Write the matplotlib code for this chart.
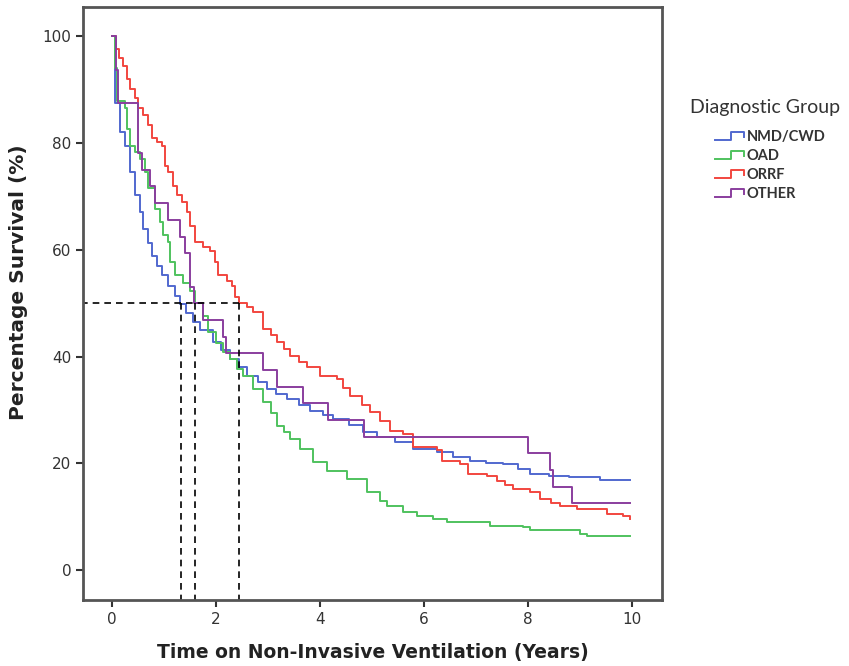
"""Kaplan-Meier style survival curves by diagnostic group."""

import matplotlib

matplotlib.use("Agg")

import matplotlib.pyplot as plt  # noqa: E402
from matplotlib.legend_handler import HandlerBase  # noqa: E402
from matplotlib.lines import Line2D  # noqa: E402

plt.rcParams["font.family"] = ["DejaVu Sans"]

# survival steps (years, percent)
nmd_t = [0, 0.05, 0.15, 0.25, 0.35, 0.44, 0.54, 0.6, 0.69, 0.76, 0.86, 0.96, 1.08, 1.21,
         1.31, 1.42, 1.56, 1.7, 1.94, 2.1, 2.27, 2.45, 2.6, 2.8, 2.98, 3.15, 3.37, 3.6,
         3.81, 4.05, 4.25, 4.55, 4.83, 5.1, 5.45, 5.79, 6.25, 6.55, 6.88, 7.2, 7.52, 7.8,
         8.04, 8.4, 8.8, 9.38, 9.96]
nmd_s = [100, 87.5, 82, 79.5, 74.6, 70.2, 67.1, 64, 61.2, 58.9, 57, 55.2, 53.3, 51.4,
         49.9, 48.2, 46.5, 45, 42.8, 41.2, 39.6, 38, 36.4, 35.2, 34, 33, 32.1, 31,
         29.8, 29, 28.3, 27.2, 25.9, 25, 24, 22.7, 22.1, 21.2, 20.4, 20.1, 19.9, 19,
         18, 17.7, 17.4, 16.9, 16.9]

oad_t = [0, 0.05, 0.1, 0.25, 0.29, 0.35, 0.44, 0.54, 0.63, 0.69, 0.83, 0.92, 0.98, 1.08,
         1.12, 1.21, 1.37, 1.5, 1.6, 1.75, 1.85, 2.0, 2.13, 2.27, 2.4, 2.52, 2.71, 2.9,
         3.05, 3.17, 3.3, 3.42, 3.62, 3.87, 4.13, 4.52, 4.9, 5.15, 5.29, 5.6, 5.87, 6.17,
         6.44, 7.27, 7.9, 8.04, 9.0, 9.13, 9.96]
oad_s = [100, 94, 87.8, 86.5, 82.7, 79.5, 78.4, 77.1, 74.6, 71.5, 67.7, 65.3, 62.7, 61.5,
         57.8, 55.2, 53.7, 52.2, 50, 47.7, 44.7, 42.5, 40.9, 39.5, 37.7, 36.4, 34.0, 31.5,
         29.5, 27.0, 25.8, 24.6, 22.7, 20.3, 18.6, 17.1, 14.6, 12.9, 12.0, 10.9, 10.1, 9.6,
         9.0, 8.3, 8.1, 7.5, 6.75, 6.4, 6.4]

orrf_t = [0, 0.08, 0.14, 0.21, 0.29, 0.35, 0.44, 0.5, 0.6, 0.69, 0.77, 0.86, 0.96, 1.02,
          1.08, 1.17, 1.25, 1.35, 1.44, 1.5, 1.6, 1.75, 1.88, 1.98, 2.04, 2.21, 2.31, 2.37,
          2.45, 2.6, 2.71, 2.9, 3.05, 3.17, 3.3, 3.42, 3.6, 3.75, 4.0, 4.33, 4.45, 4.58,
          4.8, 4.96, 5.15, 5.35, 5.6, 5.79, 6.25, 6.35, 6.69, 6.85, 7.21, 7.4, 7.55, 7.71,
          8.04, 8.23, 8.45, 8.62, 8.94, 9.52, 9.83, 9.96]
orrf_s = [100, 97.7, 95.9, 94.4, 92.1, 90.2, 88.4, 86.5, 85.2, 83.3, 80.9, 80.3, 79.4, 75.8,
          74.6, 72, 70.2, 69, 67.1, 64.5, 61.5, 60.6, 59.7, 57.8, 55.2, 54.2, 53.3, 51.2,
          50, 49.3, 48.4, 45.2, 44, 42.8, 41.5, 40.2, 39, 38.1, 36.4, 35.8, 34.2, 32.6,
          31, 29.6, 28, 26.1, 25.5, 23.1, 22.5, 20.4, 19.9, 18, 17.6, 16.7, 16, 15.2,
          14.6, 13.3, 12.6, 12.0, 11.4, 10.5, 10.1, 9.6]

other_t = [0, 0.08, 0.12, 0.5, 0.58, 0.73, 0.83, 1.08, 1.31, 1.40, 1.5, 1.58, 1.75, 2.13,
           2.19, 2.9, 3.17, 3.67, 4.15, 4.85, 8.0, 8.42, 8.48, 8.85, 9.96]
other_s = [100, 93.75, 87.5, 78.125, 75, 71.875, 68.75, 65.625, 62.5, 59.375, 53.125, 50,
           46.875, 43.75, 40.625, 37.5, 34.375, 31.25, 28.125, 25, 21.875, 18.75, 15.625,
           12.5, 12.5]

group_names = ["NMD/CWD", "OAD", "ORRF", "OTHER"]
group_colors = ["#5168cf", "#4fc25e", "#f2463f", "#8a3e9e"]
medians = [1.33, 1.6, 2.45]
x_ticks = [0, 2, 4, 6, 8, 10]
y_ticks = [0, 20, 40, 60, 80, 100]


class StepHandler(HandlerBase):
    """Small step glyph used in the legend."""

    def create_artists(self, legend, orig_handle, xdescent, ydescent, width, height,
                       fontsize, trans):
        x0, x1 = -xdescent, -xdescent + width
        lo, hi = -ydescent + 0.1 * height, -ydescent + 0.9 * height
        mid = x0 + 0.55 * width
        xs = [x0, mid, mid, x1, x1]
        ys = [lo, lo, hi, hi, lo + 0.3 * height]
        line = Line2D(xs, ys, color=orig_handle.get_color(), lw=1.4, transform=trans)
        return [line]


figure = plt.figure(figsize=(8.49, 6.66), dpi=100)
axes = figure.add_axes([83 / 849, 1 - 600 / 666, (662 - 83) / 849, (600 - 7) / 666])

series = [(nmd_t, nmd_s), (oad_t, oad_s), (orrf_t, orrf_s), (other_t, other_s)]
handles = []
for (t, s), name, color in zip(series, group_names, group_colors):
    line, = axes.step(t, s, where="post", color=color, lw=1.4, label=name)
    handles.append(line)

# median reference lines
axes.plot([-0.6, max(medians)], [50, 50], color="black", lw=1.2, ls=(0, (4, 3)))
for m in medians:
    axes.plot([m, m], [50, -6], color="black", lw=1.2, ls=(0, (4, 3)))

axes.set_xlim(-0.56, 10.58)
axes.set_ylim(-5.6, 105.5)
axes.set_xticks(x_ticks)
axes.set_yticks(y_ticks)
axes.tick_params(direction="out", length=5, width=1.5, color="#333333",
                 labelsize=11, labelcolor="#333333")
for spine in axes.spines.values():
    spine.set_color("#555555")
    spine.set_linewidth(2)

axes.set_xlabel("Time on Non-Invasive Ventilation (Years)", fontsize=13.5,
                fontweight="bold", color="#222222", labelpad=12)
axes.set_ylabel("Percentage Survival (%)", fontsize=14.5, fontweight="bold",
                color="#222222")
axes.yaxis.set_label_coords(-0.095, 0.536)

figure.text(690 / 849, 1 - 108 / 666, "Diagnostic Group", fontsize=14,
            color="#333333", va="center", ha="left", family=["Lato", "DejaVu Sans"])
figure.legend(handles=handles, labels=group_names, loc="upper left",
              bbox_to_anchor=(708 / 849, 1 - 123 / 666), frameon=False,
              handler_map={Line2D: StepHandler()}, handlelength=2.0,
              handletextpad=0.15, labelspacing=0.33, borderpad=0, labelcolor="#333333",
              prop={"family": ["Lato", "DejaVu Sans"], "weight": "bold", "size": 10.5})

figure.savefig("out.png", dpi=100)
plt.close(figure)
